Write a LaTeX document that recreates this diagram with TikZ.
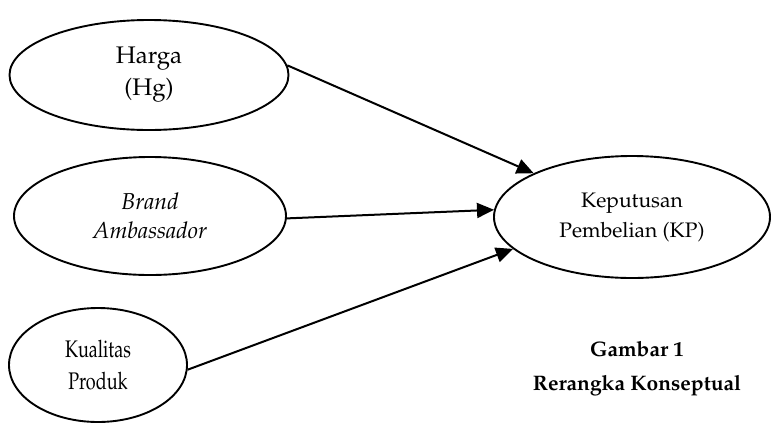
\documentclass[tikz,border=0pt]{standalone}
\usepackage[T1]{fontenc}
\usepackage{mathpazo}
\usetikzlibrary{shapes.geometric,arrows.meta}
\tikzset{var/.style={draw,ellipse,line width=1.9pt,inner sep=0pt,align=center,font=\fontsize{24}{32}\selectfont}}
\begin{document}
\begin{tikzpicture}[x=1pt,y=-1pt,>={Triangle[length=17pt,width=15pt]},line width=2pt]
\useasboundingbox (0,0) rectangle (774,424);
\node[var,minimum width=279pt,minimum height=110pt](Hg) at (149,75){Harga\\(Hg)};
\node[var,minimum width=272pt,minimum height=118pt,font=\fontsize{23}{29}\selectfont](BA) at (150,216){\textit{Brand}\\\textit{Ambassador}};
\node[var,minimum width=178pt,minimum height=114pt](KQ) at (98,365){\scalebox{0.75}[1]{Kualitas}\\\scalebox{0.75}[1]{Produk}};
\node[var,minimum width=276pt,minimum height=122pt,font=\fontsize{21}{30}\selectfont](KP) at (632,217){Keputusan\\Pembelian (KP)};
\draw[->](Hg.4)--(KP.156);
\draw[->](BA.359)--(KP.177);
\draw[->](KQ.357)--(KP.195);
\node[align=center,font=\bfseries\fontsize{21}{34}\selectfont](cap) at (637,369){Gambar 1\\Rerangka Konseptual};
\end{tikzpicture}
\end{document}
